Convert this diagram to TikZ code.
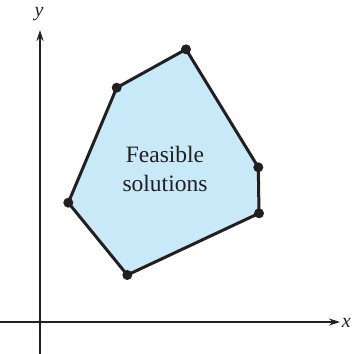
\documentclass[tikz,border=0pt]{standalone}
\usepackage{fontspec}
\setmainfont{Liberation Serif}
\usetikzlibrary{arrows.meta}
\definecolor{feas}{HTML}{C8E9F8}
\definecolor{ink}{HTML}{231F20}
\tikzset{
  axis/.style={draw=ink, line width=1.3pt, -{Stealth[length=11pt,width=7pt]}},
  edge/.style={draw=ink, line width=3pt, line join=round},
  vert/.style={circle, fill=ink, inner sep=0pt, minimum size=10pt},
  lab/.style={font=\fontsize{20}{24}\selectfont\itshape, text=ink, inner sep=0pt}
}
\begin{document}
\begin{tikzpicture}[x=1pt,y=1pt]
\useasboundingbox (0,0) rectangle (352,354);
% axes
\coordinate (ys) at (40,0);
\coordinate (ye) at (40,324);
\coordinate (xs) at (0,32);
\coordinate (xe) at (340,32);
\draw[axis] (ys) -- (ye);
\draw[axis] (xs) -- (xe);
\node[lab, anchor=base] (ylab) at (39,337) {y};
\node[lab, anchor=base east] (xlab) at (351,27) {x};
% vertices
\coordinate (a) at (116.7,266.3);
\coordinate (b) at (186,304.7);
\coordinate (c) at (258.3,186.7);
\coordinate (d) at (259,140.7);
\coordinate (e) at (127.3,79);
\coordinate (f) at (68.3,151.3);
\fill[feas] (a) -- (b) -- (c) -- (d) -- (e) -- (f) -- cycle;
\draw[edge] (a) -- (b) -- (c) -- (d) -- (e) -- (f) -- cycle;
\foreach \p in {a,b,c,d,e,f} \node[vert] (v\p) at (\p) {};
\node[align=center, text=ink, font=\fontsize{23.5}{29.5}\selectfont] (t) at (165,185) {Feasible\\solutions};
\end{tikzpicture}
\end{document}
